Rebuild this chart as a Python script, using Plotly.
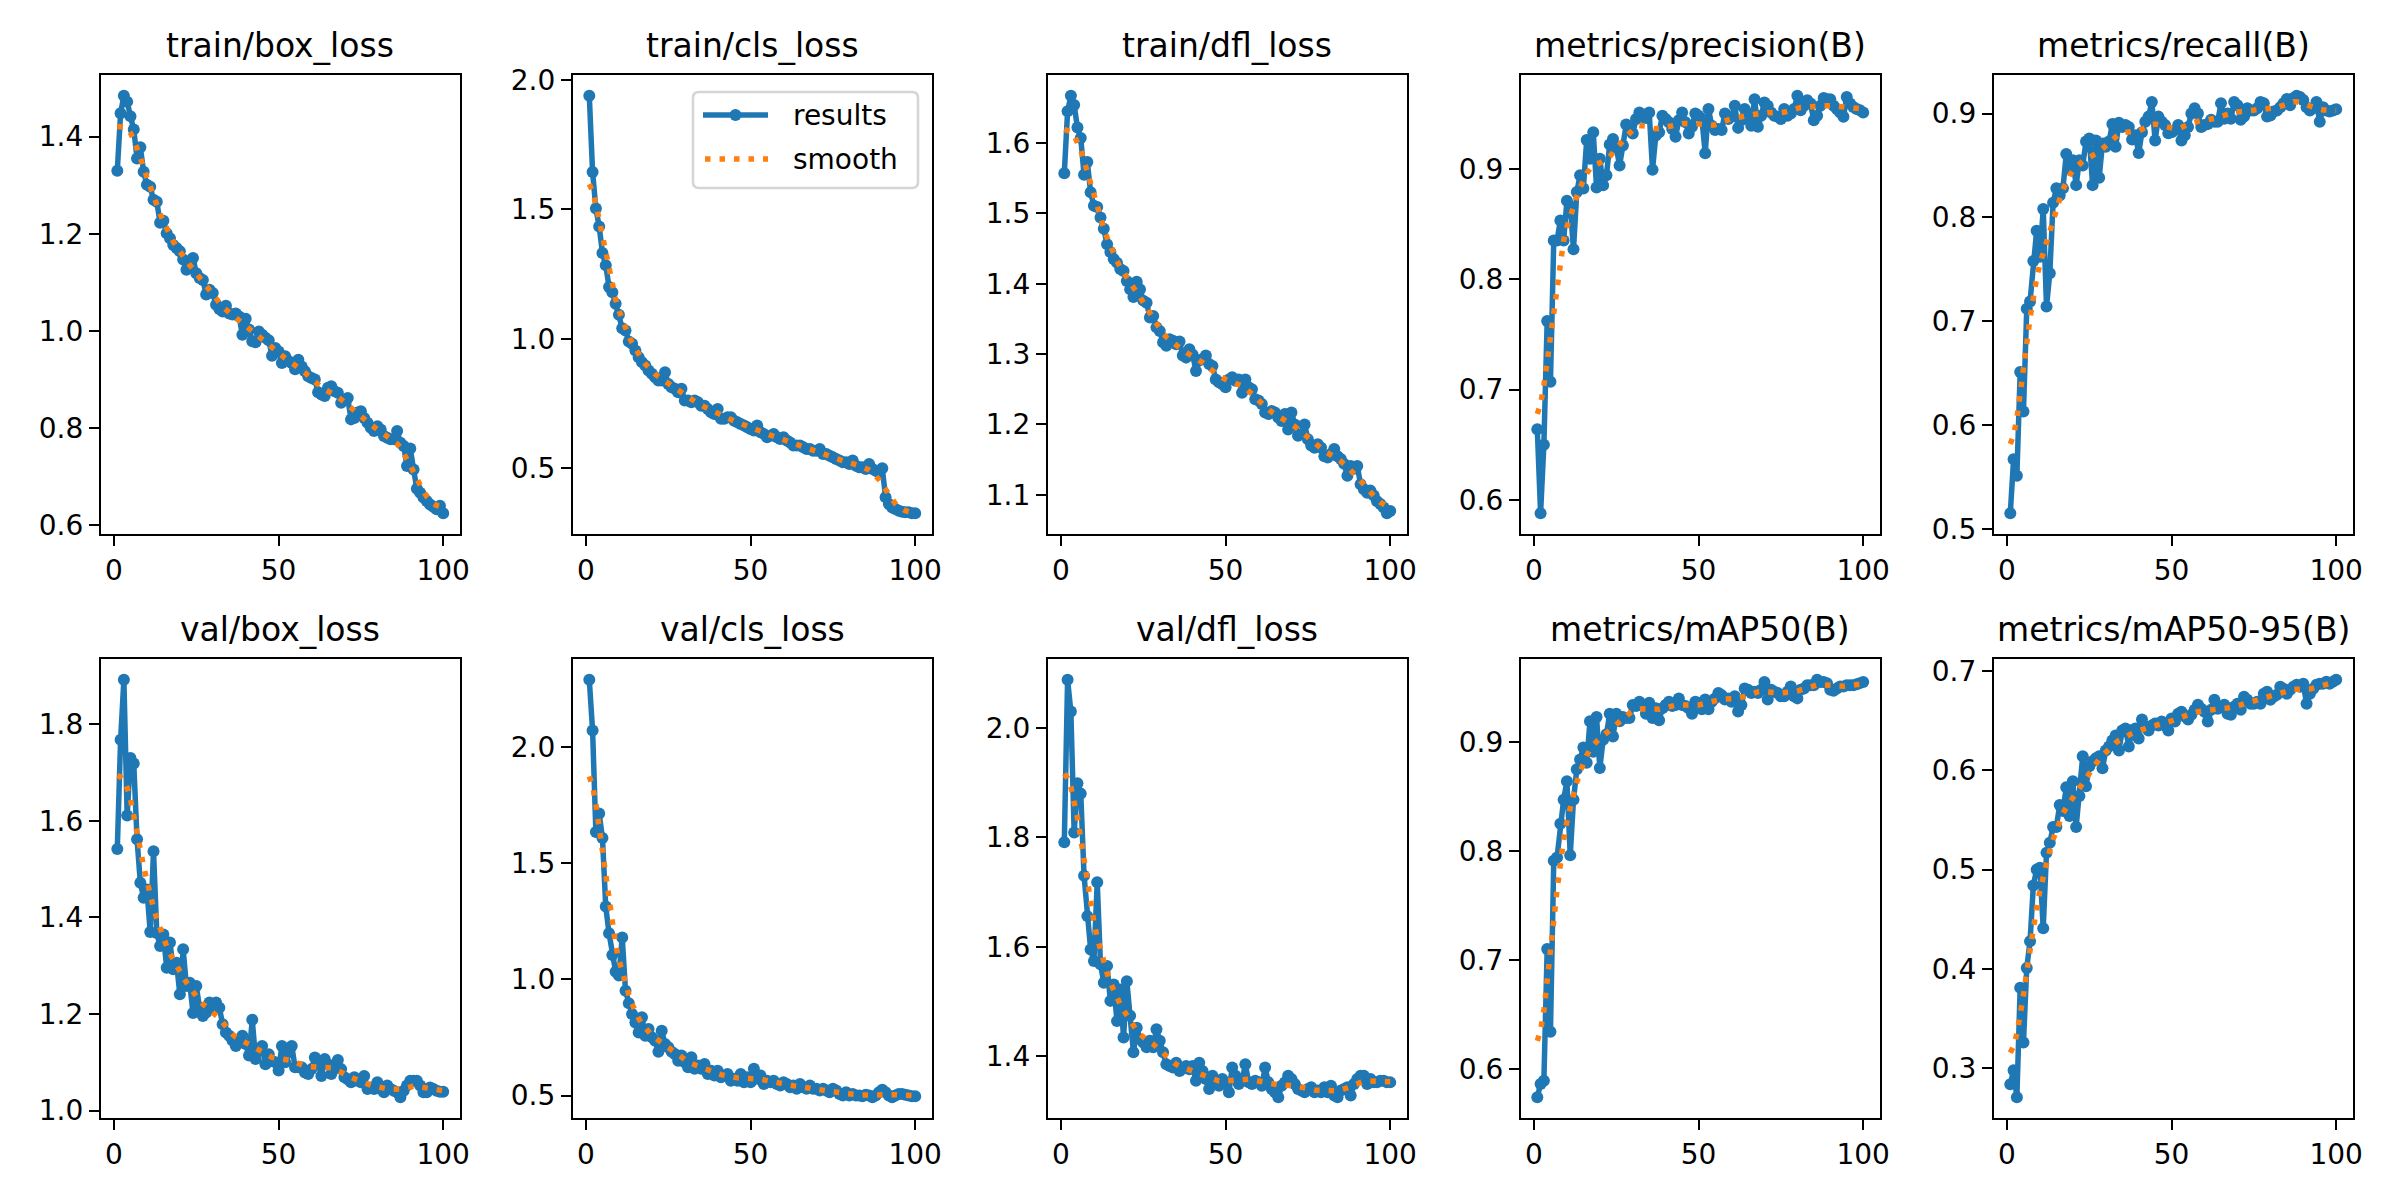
import numpy as np
import plotly.graph_objects as go

# ---------------- data ----------------
epochs = list(range(1, 101))

train_box_loss = [1.330, 1.448, 1.484, 1.472, 1.442, 1.415, 1.355, 1.378, 1.328, 1.301,
                  1.297, 1.270, 1.266, 1.223, 1.227, 1.201, 1.191, 1.177, 1.171, 1.164,
                  1.147, 1.126, 1.136, 1.150, 1.119, 1.109, 1.105, 1.075, 1.085, 1.078,
                  1.054, 1.045, 1.040, 1.052, 1.036, 1.034, 1.036, 1.030, 0.992, 1.025,
                  1.003, 0.979, 0.977, 0.999, 0.992, 0.986, 0.981, 0.949, 0.965, 0.958,
                  0.934, 0.948, 0.938, 0.934, 0.921, 0.941, 0.927, 0.917, 0.907, 0.903,
                  0.900, 0.874, 0.869, 0.866, 0.883, 0.886, 0.876, 0.873, 0.852, 0.859,
                  0.862, 0.818, 0.821, 0.832, 0.835, 0.821, 0.811, 0.801, 0.794, 0.804,
                  0.797, 0.784, 0.780, 0.777, 0.777, 0.794, 0.770, 0.763, 0.722, 0.758,
                  0.715, 0.675, 0.667, 0.657, 0.650, 0.643, 0.638, 0.633, 0.640, 0.625]

train_cls_loss = [1.938, 1.644, 1.503, 1.434, 1.331, 1.284, 1.200, 1.180, 1.135, 1.093,
                  1.041, 1.032, 0.990, 0.981, 0.955, 0.929, 0.910, 0.897, 0.878, 0.865,
                  0.852, 0.839, 0.839, 0.871, 0.826, 0.813, 0.807, 0.794, 0.807, 0.762,
                  0.762, 0.755, 0.762, 0.755, 0.742, 0.742, 0.729, 0.716, 0.710, 0.729,
                  0.691, 0.691, 0.697, 0.697, 0.684, 0.678, 0.671, 0.665, 0.659, 0.652,
                  0.646, 0.665, 0.639, 0.633, 0.620, 0.626, 0.633, 0.620, 0.613, 0.620,
                  0.607, 0.600, 0.588, 0.588, 0.588, 0.581, 0.575, 0.575, 0.568, 0.568,
                  0.575, 0.555, 0.555, 0.549, 0.543, 0.536, 0.530, 0.523, 0.523, 0.517,
                  0.530, 0.510, 0.504, 0.504, 0.497, 0.517, 0.497, 0.491, 0.485, 0.500,
                  0.388, 0.362, 0.349, 0.343, 0.336, 0.332, 0.330, 0.330, 0.327, 0.327]

train_dfl_loss = [1.557, 1.645, 1.667, 1.654, 1.622, 1.607, 1.555, 1.573, 1.530, 1.511,
                  1.509, 1.494, 1.478, 1.456, 1.445, 1.435, 1.430, 1.421, 1.418, 1.404,
                  1.392, 1.381, 1.403, 1.392, 1.376, 1.373, 1.352, 1.354, 1.338, 1.333,
                  1.317, 1.312, 1.321, 1.319, 1.314, 1.318, 1.298, 1.295, 1.307, 1.299,
                  1.276, 1.291, 1.293, 1.298, 1.286, 1.283, 1.264, 1.260, 1.257, 1.253,
                  1.264, 1.267, 1.262, 1.264, 1.245, 1.264, 1.253, 1.250, 1.236, 1.234,
                  1.229, 1.217, 1.215, 1.219, 1.217, 1.210, 1.205, 1.215, 1.193, 1.217,
                  1.200, 1.184, 1.186, 1.200, 1.179, 1.170, 1.167, 1.172, 1.167, 1.155,
                  1.153, 1.158, 1.165, 1.155, 1.151, 1.144, 1.127, 1.141, 1.137, 1.141,
                  1.115, 1.108, 1.103, 1.106, 1.099, 1.091, 1.087, 1.082, 1.074, 1.077]

precision = [0.664, 0.588, 0.650, 0.762, 0.707, 0.835, 0.835, 0.853, 0.835, 0.871,
             0.866, 0.827, 0.879, 0.894, 0.882, 0.926, 0.909, 0.933, 0.883, 0.909,
             0.885, 0.894, 0.922, 0.927, 0.919, 0.903, 0.921, 0.940, 0.936, 0.932,
             0.945, 0.951, 0.947, 0.946, 0.951, 0.899, 0.930, 0.933, 0.948, 0.945,
             0.942, 0.936, 0.929, 0.944, 0.951, 0.942, 0.932, 0.938, 0.950, 0.948,
             0.945, 0.914, 0.954, 0.939, 0.935, 0.936, 0.935, 0.950, 0.945, 0.947,
             0.957, 0.937, 0.944, 0.954, 0.950, 0.939, 0.963, 0.938, 0.948, 0.960,
             0.957, 0.951, 0.948, 0.947, 0.945, 0.954, 0.948, 0.950, 0.954, 0.966,
             0.953, 0.957, 0.962, 0.959, 0.944, 0.948, 0.957, 0.964, 0.963, 0.963,
             0.957, 0.954, 0.951, 0.947, 0.965, 0.959, 0.956, 0.954, 0.953, 0.951]

recall = [0.515, 0.567, 0.551, 0.651, 0.613, 0.712, 0.719, 0.758, 0.787, 0.762,
          0.808, 0.714, 0.746, 0.814, 0.828, 0.821, 0.828, 0.861, 0.846, 0.855,
          0.831, 0.855, 0.850, 0.873, 0.876, 0.831, 0.874, 0.838, 0.871, 0.868,
          0.873, 0.890, 0.868, 0.891, 0.887, 0.889, 0.887, 0.875, 0.879, 0.862,
          0.882, 0.892, 0.897, 0.911, 0.874, 0.897, 0.892, 0.889, 0.881, 0.882,
          0.884, 0.889, 0.874, 0.879, 0.887, 0.900, 0.905, 0.900, 0.887, 0.889,
          0.890, 0.894, 0.892, 0.892, 0.910, 0.895, 0.900, 0.895, 0.911, 0.908,
          0.894, 0.897, 0.905, 0.903, 0.903, 0.905, 0.911, 0.910, 0.897, 0.898,
          0.902, 0.903, 0.906, 0.910, 0.914, 0.908, 0.915, 0.917, 0.916, 0.913,
          0.906, 0.903, 0.905, 0.911, 0.892, 0.906, 0.903, 0.902, 0.903, 0.904]

val_box_loss = [1.542, 1.768, 1.892, 1.611, 1.730, 1.719, 1.562, 1.472, 1.441, 1.458,
                1.370, 1.537, 1.368, 1.341, 1.365, 1.296, 1.348, 1.293, 1.306, 1.241,
                1.334, 1.258, 1.265, 1.202, 1.258, 1.213, 1.196, 1.203, 1.224, 1.210,
                1.224, 1.213, 1.179, 1.162, 1.155, 1.145, 1.134, 1.148, 1.155, 1.138,
                1.114, 1.188, 1.107, 1.124, 1.134, 1.096, 1.117, 1.103, 1.100, 1.083,
                1.134, 1.100, 1.120, 1.134, 1.090, 1.090, 1.090, 1.079, 1.076, 1.086,
                1.110, 1.100, 1.072, 1.107, 1.096, 1.076, 1.090, 1.105, 1.086, 1.069,
                1.065, 1.059, 1.069, 1.062, 1.059, 1.072, 1.045, 1.048, 1.045, 1.059,
                1.045, 1.038, 1.052, 1.045, 1.041, 1.038, 1.028, 1.041, 1.052, 1.062,
                1.062, 1.062, 1.052, 1.038, 1.038, 1.048, 1.045, 1.041, 1.039, 1.039]

val_cls_loss = [2.291, 2.073, 1.635, 1.715, 1.610, 1.314, 1.199, 1.105, 1.033, 1.017,
                1.181, 0.951, 0.898, 0.851, 0.815, 0.772, 0.837, 0.758, 0.787, 0.751,
                0.736, 0.689, 0.779, 0.722, 0.708, 0.689, 0.679, 0.650, 0.672, 0.643,
                0.622, 0.665, 0.615, 0.629, 0.615, 0.636, 0.593, 0.607, 0.586, 0.607,
                0.579, 0.586, 0.593, 0.564, 0.572, 0.564, 0.593, 0.557, 0.579, 0.557,
                0.615, 0.572, 0.586, 0.550, 0.564, 0.557, 0.564, 0.550, 0.543, 0.557,
                0.550, 0.536, 0.543, 0.529, 0.550, 0.536, 0.529, 0.543, 0.529, 0.529,
                0.522, 0.529, 0.522, 0.514, 0.529, 0.522, 0.507, 0.500, 0.514, 0.500,
                0.507, 0.500, 0.500, 0.497, 0.503, 0.500, 0.493, 0.500, 0.514, 0.525,
                0.514, 0.500, 0.493, 0.500, 0.507, 0.507, 0.503, 0.500, 0.497, 0.497]

val_dfl_loss = [1.791, 2.088, 2.030, 1.809, 1.899, 1.880, 1.730, 1.656, 1.595, 1.574,
                1.718, 1.568, 1.534, 1.565, 1.501, 1.531, 1.464, 1.522, 1.434, 1.537,
                1.474, 1.407, 1.452, 1.431, 1.425, 1.416, 1.428, 1.416, 1.449, 1.428,
                1.407, 1.385, 1.382, 1.379, 1.388, 1.373, 1.377, 1.382, 1.376, 1.382,
                1.355, 1.388, 1.373, 1.358, 1.340, 1.364, 1.352, 1.346, 1.358, 1.349,
                1.334, 1.379, 1.364, 1.349, 1.355, 1.385, 1.352, 1.349, 1.355, 1.352,
                1.346, 1.379, 1.352, 1.340, 1.334, 1.325, 1.346, 1.352, 1.364, 1.358,
                1.349, 1.340, 1.337, 1.334, 1.340, 1.343, 1.334, 1.337, 1.334, 1.343,
                1.334, 1.346, 1.328, 1.325, 1.337, 1.340, 1.343, 1.328, 1.349, 1.358,
                1.364, 1.364, 1.349, 1.358, 1.352, 1.352, 1.355, 1.355, 1.352, 1.352]

map50 = [0.574, 0.586, 0.589, 0.710, 0.634, 0.791, 0.794, 0.825, 0.847, 0.864,
         0.796, 0.847, 0.875, 0.884, 0.895, 0.881, 0.919, 0.891, 0.923, 0.876,
         0.902, 0.907, 0.926, 0.905, 0.926, 0.919, 0.923, 0.922, 0.922, 0.934,
         0.933, 0.937, 0.934, 0.926, 0.936, 0.922, 0.931, 0.920, 0.931, 0.934,
         0.937, 0.933, 0.934, 0.940, 0.934, 0.933, 0.931, 0.926, 0.937, 0.936,
         0.930, 0.939, 0.930, 0.937, 0.940, 0.945, 0.943, 0.939, 0.940, 0.937,
         0.942, 0.928, 0.934, 0.949, 0.948, 0.945, 0.946, 0.945, 0.948, 0.955,
         0.939, 0.948, 0.946, 0.945, 0.942, 0.942, 0.946, 0.951, 0.942, 0.940,
         0.948, 0.949, 0.952, 0.952, 0.952, 0.957, 0.955, 0.955, 0.954, 0.948,
         0.947, 0.949, 0.951, 0.951, 0.952, 0.952, 0.952, 0.953, 0.954, 0.955]

map50_95 = [0.284, 0.298, 0.271, 0.381, 0.326, 0.401, 0.428, 0.484, 0.500, 0.502,
            0.441, 0.517, 0.527, 0.543, 0.543, 0.565, 0.559, 0.583, 0.554, 0.589,
            0.543, 0.574, 0.614, 0.584, 0.604, 0.609, 0.612, 0.614, 0.602, 0.620,
            0.624, 0.630, 0.635, 0.620, 0.640, 0.642, 0.624, 0.640, 0.642, 0.632,
            0.651, 0.644, 0.640, 0.645, 0.647, 0.645, 0.649, 0.645, 0.640, 0.652,
            0.649, 0.657, 0.659, 0.654, 0.651, 0.656, 0.661, 0.666, 0.662, 0.659,
            0.649, 0.661, 0.671, 0.662, 0.664, 0.666, 0.657, 0.656, 0.664, 0.667,
            0.661, 0.674, 0.671, 0.667, 0.667, 0.669, 0.667, 0.677, 0.679, 0.671,
            0.674, 0.676, 0.684, 0.682, 0.677, 0.681, 0.684, 0.686, 0.684, 0.687,
            0.667, 0.677, 0.682, 0.686, 0.687, 0.687, 0.689, 0.687, 0.689, 0.691]

titles = ["train/box_loss", "train/cls_loss", "train/dfl_loss",
          "metrics/precision(B)", "metrics/recall(B)",
          "val/box_loss", "val/cls_loss", "val/dfl_loss",
          "metrics/mAP50(B)", "metrics/mAP50-95(B)"]
series = [train_box_loss, train_cls_loss, train_dfl_loss, precision, recall,
          val_box_loss, val_cls_loss, val_dfl_loss, map50, map50_95]
ytick_vals = [[0.6, 0.8, 1.0, 1.2, 1.4],
              [0.5, 1.0, 1.5, 2.0],
              [1.1, 1.2, 1.3, 1.4, 1.5, 1.6],
              [0.6, 0.7, 0.8, 0.9],
              [0.5, 0.6, 0.7, 0.8, 0.9],
              [1.0, 1.2, 1.4, 1.6, 1.8],
              [0.5, 1.0, 1.5, 2.0],
              [1.4, 1.6, 1.8, 2.0],
              [0.6, 0.7, 0.8, 0.9],
              [0.3, 0.4, 0.5, 0.6, 0.7]]
xtick_vals = [0, 50, 100]
legend_labels = ["results", "smooth"]


def gaussian_smooth(y, sigma=3.0, truncate=4.0):
    """Same smoothing as scipy.ndimage.gaussian_filter1d (mode='reflect')."""
    y = np.asarray(y, dtype=float)
    r = int(truncate * sigma + 0.5)
    k = np.arange(-r, r + 1)
    w = np.exp(-0.5 * (k / sigma) ** 2)
    w /= w.sum()
    yp = np.pad(y, r, mode="symmetric")
    return np.convolve(yp, w, mode="valid")


# ---------------- layout geometry (page pixels) ----------------
OFF = 8                      # default body margin of the html page
W, H = 2400 - OFF, 1200 - OFF
col_left = [101, 573, 1048, 1521, 1994]
row_top = [75, 659]
ax_w, ax_h = 358.5, 459

BLUE = "#1f77b4"
ORANGE = "#ff7f0e"
FONT = "DejaVu Sans"
LW = 5.5
DOT = "5.5px,9px"


def px(xp):
    return (xp - OFF) / W


def py(yp):
    return 1 - (yp - OFF) / H


fig = go.Figure()
annotations = []
shapes = []

for i, (title, y) in enumerate(zip(titles, series)):
    r, c = divmod(i, 5)
    n = i + 1
    xa = "x" if n == 1 else f"x{n}"
    ya = "y" if n == 1 else f"y{n}"
    ys = gaussian_smooth(y)
    fig.add_trace(go.Scatter(
        x=epochs, y=y, mode="lines+markers", name=legend_labels[0],
        line=dict(color=BLUE, width=LW),
        marker=dict(color=BLUE, size=12, line=dict(width=0)),
        xaxis=xa, yaxis=ya, showlegend=False))
    fig.add_trace(go.Scatter(
        x=epochs, y=ys, mode="lines", name=legend_labels[1],
        line=dict(color=ORANGE, width=LW, dash=DOT),
        xaxis=xa, yaxis=ya, showlegend=False))

    allv = np.concatenate([np.asarray(y), ys])
    lo, hi = allv.min(), allv.max()
    pad = 0.05 * (hi - lo)

    L = col_left[c]
    T = row_top[r]
    xdom = [px(L), px(L + ax_w)]
    ydom = [py(T + ax_h), py(T)]

    axis_common = dict(showline=True, mirror=True, linecolor="black", linewidth=2.2,
                       ticks="outside", ticklen=10, tickwidth=2.2, tickcolor="black",
                       showgrid=False, zeroline=False, automargin=False,
                       tickfont=dict(family=FONT, size=28, color="black"))
    xkey = "xaxis" if n == 1 else f"xaxis{n}"
    ykey = "yaxis" if n == 1 else f"yaxis{n}"
    fig.update_layout(**{
        xkey: dict(domain=xdom, anchor=ya, range=[1 - 4.95, 100 + 4.95],
                   tickvals=xtick_vals, ticktext=[str(v) for v in xtick_vals],
                   **axis_common),
        ykey: dict(domain=ydom, anchor=xa, range=[lo - pad, hi + pad],
                   tickvals=ytick_vals[i], tickformat=".1f",
                   **axis_common),
    })
    annotations.append(dict(
        text=title, x=px(L + ax_w / 2), y=py(T), xref="paper", yref="paper",
        xanchor="center", yanchor="bottom", yshift=8, showarrow=False,
        font=dict(family=FONT, size=33, color="black")))

# ---------------- legend (drawn in panel 2, upper right) ----------------
lx0, lx1, ly0, ly1 = 693, 918, 92, 188
rad = 6
path = (f"M {px(lx0 + rad)},{py(ly0)} L {px(lx1 - rad)},{py(ly0)} "
        f"Q {px(lx1)},{py(ly0)} {px(lx1)},{py(ly0 + rad)} "
        f"L {px(lx1)},{py(ly1 - rad)} Q {px(lx1)},{py(ly1)} {px(lx1 - rad)},{py(ly1)} "
        f"L {px(lx0 + rad)},{py(ly1)} Q {px(lx0)},{py(ly1)} {px(lx0)},{py(ly1 - rad)} "
        f"L {px(lx0)},{py(ly0 + rad)} Q {px(lx0)},{py(ly0)} {px(lx0 + rad)},{py(ly0)} Z")
shapes.append(dict(type="path", path=path, xref="paper", yref="paper",
                   line=dict(color="#d5d5d5", width=2.6), fillcolor="rgba(255,255,255,0.8)",
                   layer="above"))
row_y = [115, 159]
shapes.append(dict(type="line", xref="paper", yref="paper",
                   x0=px(703), x1=px(768), y0=py(row_y[0]), y1=py(row_y[0]),
                   line=dict(color=BLUE, width=LW), layer="above"))
shapes.append(dict(type="circle", xref="paper", yref="paper",
                   x0=px(735.5 - 6), x1=px(735.5 + 6), y0=py(row_y[0] - 6), y1=py(row_y[0] + 6),
                   line=dict(width=0), fillcolor=BLUE, layer="above"))
shapes.append(dict(type="line", xref="paper", yref="paper",
                   x0=px(705), x1=px(768), y0=py(row_y[1]), y1=py(row_y[1]),
                   line=dict(color=ORANGE, width=LW, dash=DOT), layer="above"))
for lab, yy in zip(legend_labels, row_y):
    annotations.append(dict(text=lab, x=px(791), y=py(yy), xref="paper", yref="paper",
                            xanchor="left", yanchor="middle", showarrow=False,
                            font=dict(family=FONT, size=28, color="black")))

fig.update_layout(
    width=W, height=H,
    margin=dict(l=0, r=0, t=0, b=0, autoexpand=False),
    paper_bgcolor="white", plot_bgcolor="white",
    annotations=annotations,
    shapes=shapes,
    font=dict(family=FONT, size=28, color="black"),
    showlegend=False,
)

fig.write_html("out.html")
